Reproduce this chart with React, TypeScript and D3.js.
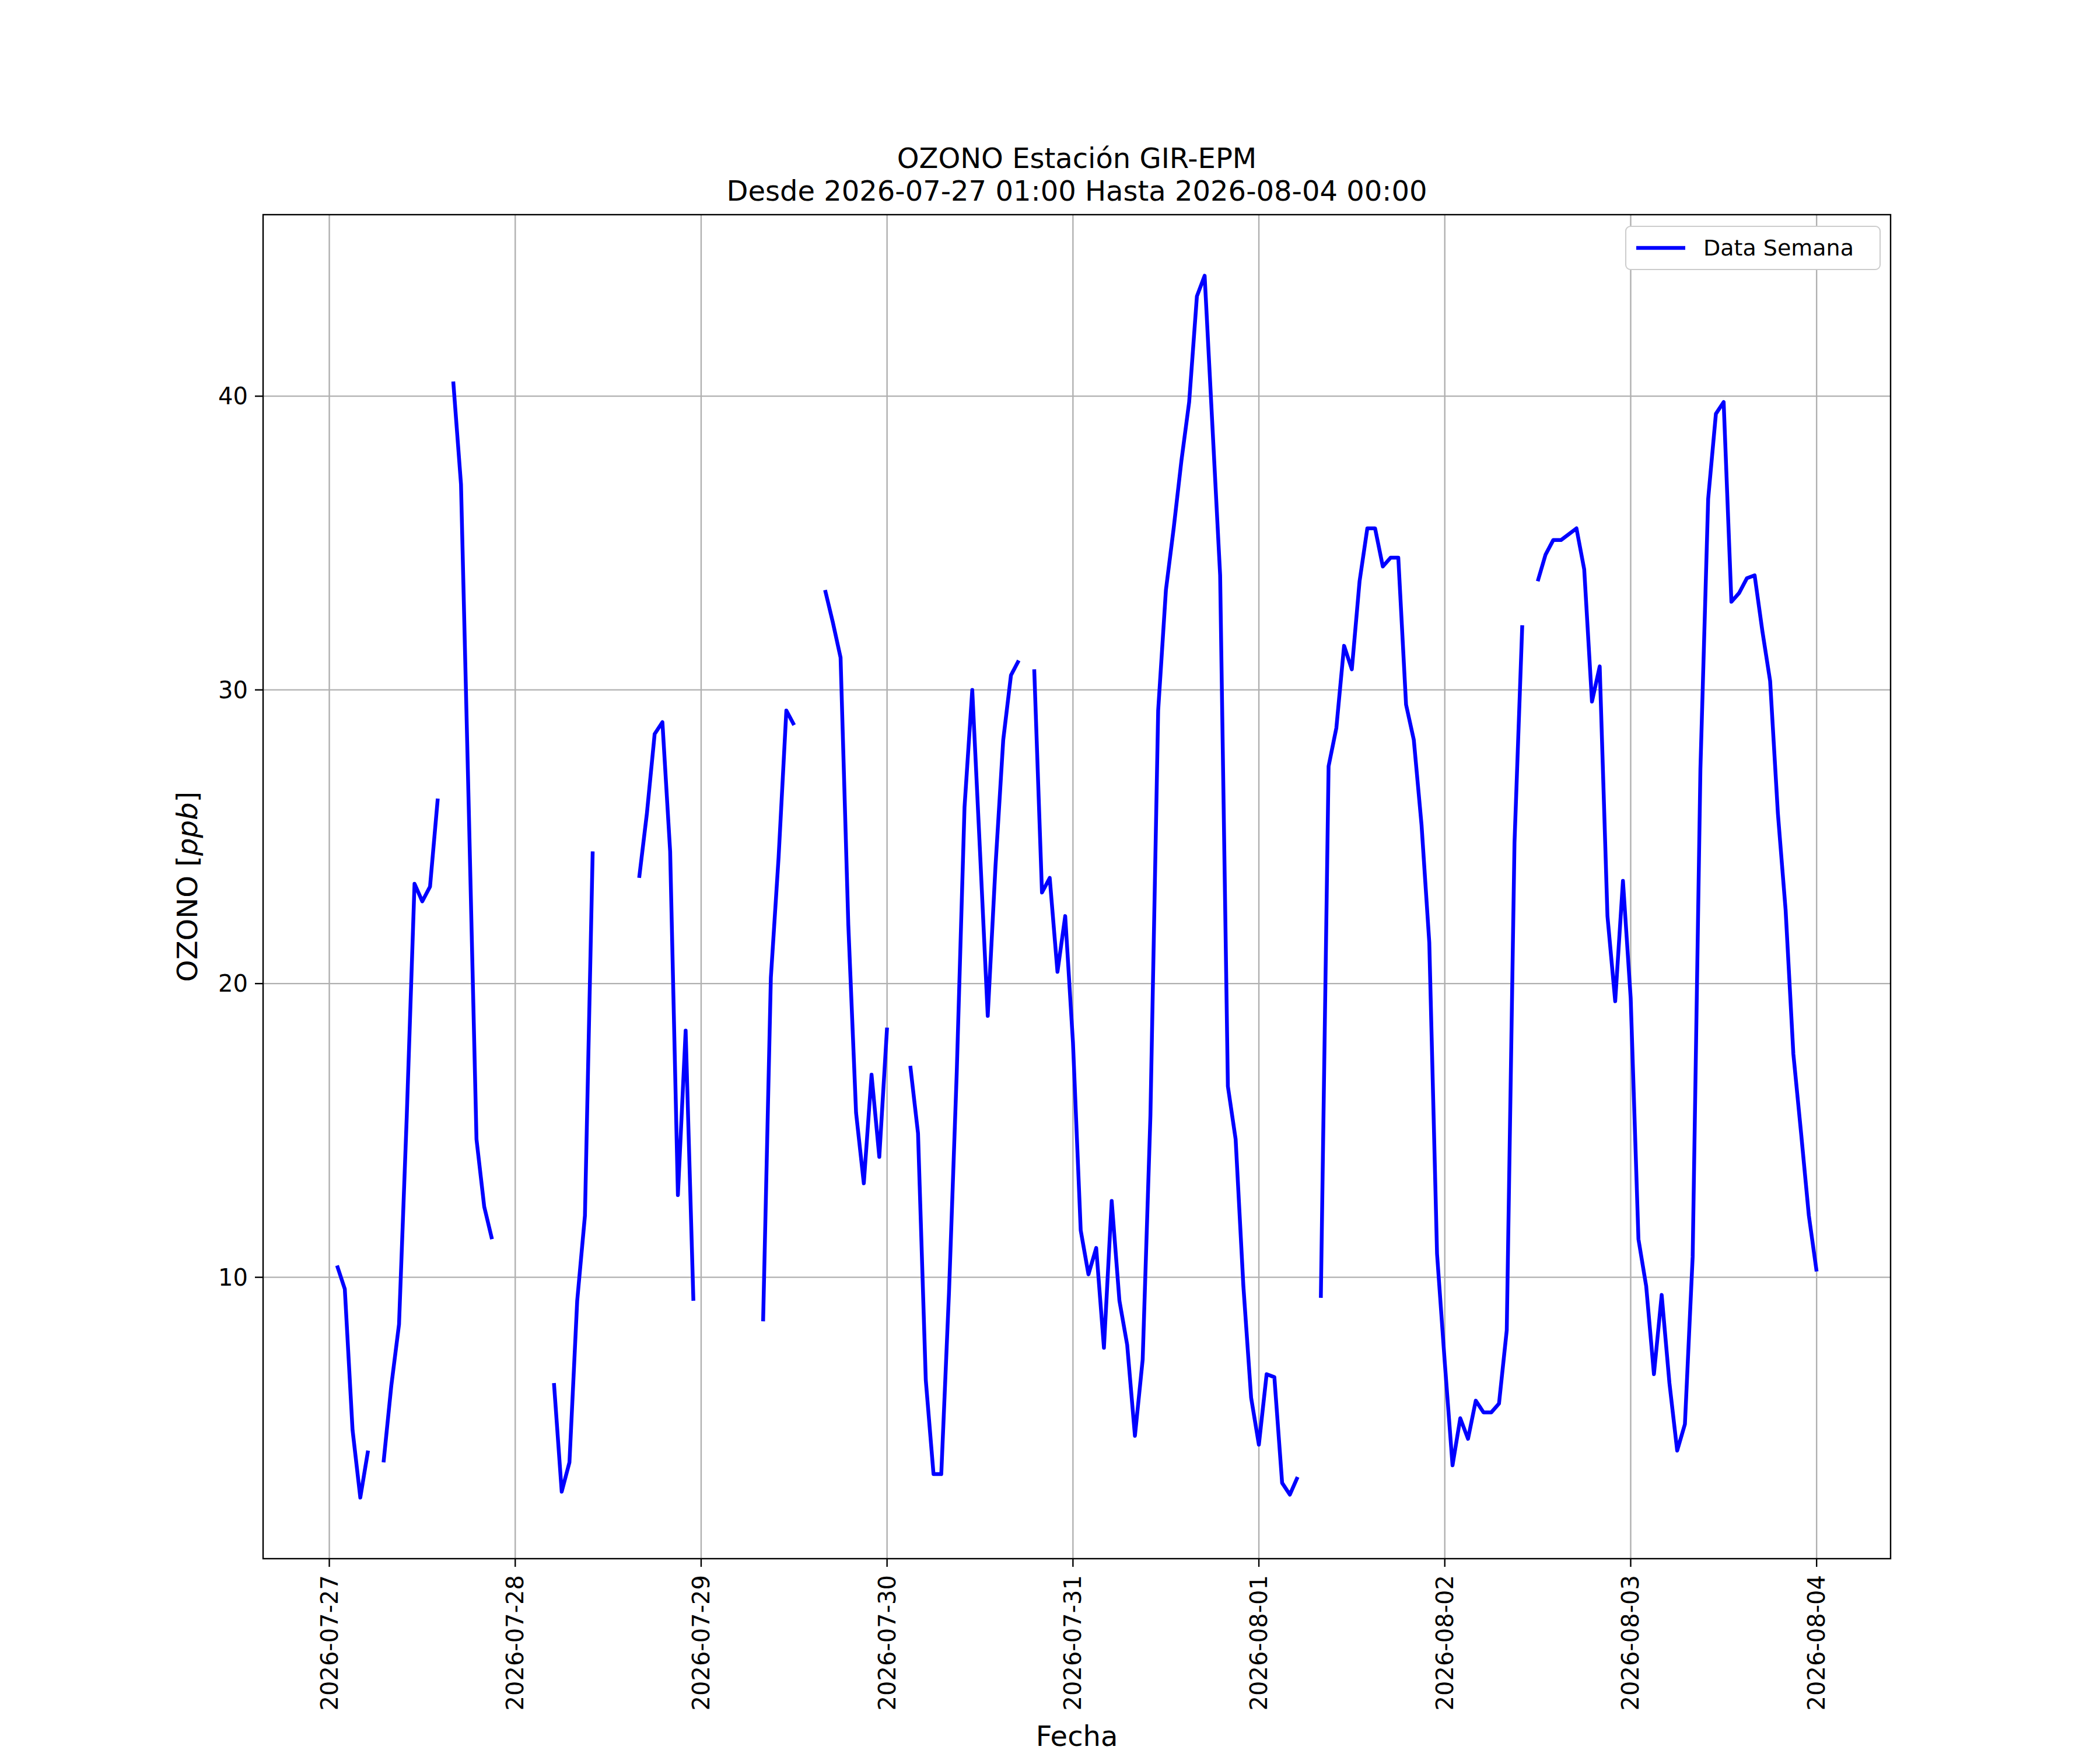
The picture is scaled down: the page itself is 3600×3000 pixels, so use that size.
import React from 'react';
import * as d3 from 'd3';

// hourly ozone (ppb), 2026-07-27 01:00 .. 2026-08-04 00:00, null = no data
const day0727 = [10.4, 9.6, 4.8, 2.5, 4.1, null, 3.7, 6.3, 8.4, 15.5, 23.4, 22.8, 23.3, 26.3, null, 40.5, 37.0, 26, 14.7, 12.4, 11.3, null, null];
const day0728 = [null, null, null, null, null, 6.4, 2.7, 3.7, 9.2, 12.1, 24.5, null, null, null, null, null, 23.6, 25.8, 28.5, 28.9, 24.5, 12.8, 18.4, 9.2];
const day0729 = [null, null, null, null, null, null, null, null, 8.5, 20.2, 24.3, 29.3, 28.8, null, null, null, 33.4, 32.3, 31.1, 22, 15.6, 13.2, 16.9, 14.1];
const day0730 = [18.5, null, null, 17.2, 14.9, 6.5, 3.3, 3.3, 9.5, 17, 26, 30, 24.5, 18.9, 24, 28.3, 30.5, 31.0, null, 30.7, 23.1, 23.6, 20.4, 22.3];
const day0731 = [18, 11.6, 10.1, 11.0, 7.6, 12.6, 9.2, 7.7, 4.6, 7.2, 15.5, 29.3, 33.4, 35.5, 37.8, 39.8, 43.4, 44.1, 39, 33.9, 16.5, 14.7, 9.7, 5.9];
const day0801 = [4.3, 6.7, 6.6, 3.0, 2.6, 3.2, null, null, 9.3, 27.4, 28.7, 31.5, 30.7, 33.7, 35.5, 35.5, 34.2, 34.5, 34.5, 29.5, 28.3, 25.4, 21.4, 10.8];
const day0802 = [7.1, 3.6, 5.2, 4.5, 5.8, 5.4, 5.4, 5.7, 8.2, 24.8, 32.2, null, 33.7, 34.6, 35.1, 35.1, 35.3, 35.5, 34.1, 29.6, 30.8, 22.3, 19.4, 23.5];
const day0803 = [19.5, 11.3, 9.7, 6.7, 9.4, 6.4, 4.1, 5.0, 10.7, 27.3, 36.5, 39.4, 39.8, 33.0, 33.3, 33.8, 33.9, 32.0, 30.3, 25.8, 22.5, 17.6, 14.9, 12.1];
const day0804 = [10.2];

const dayLabels = ['2026-07-27', '2026-07-28', '2026-07-29', '2026-07-30', '2026-07-31', '2026-08-01', '2026-08-02', '2026-08-03', '2026-08-04'];
const yTicks = [10, 20, 30, 40];

// hour offset from 2026-07-27 00:00
const values: (number | null)[] = [...day0727, ...day0728, ...day0729, ...day0730, ...day0731, ...day0801, ...day0802, ...day0803, ...day0804];
const points = values.map((v, i) => ({ h: i + 1, v }));

const W = 3600, H = 3000;
const L = 443, R = 3233, T = 360, B = 2664;
const font = 'DejaVu Sans';

const App: React.FC = () => {
  const span = 191 * 0.05;
  const x = d3.scaleLinear().domain([1 - span, 192 + span]).range([L, R]);
  const y = d3.scaleLinear().domain([0.42, 46.18]).range([B, T]);
  const line = d3.line<{ h: number; v: number | null }>()
    .defined((d) => d.v !== null)
    .x((d) => x(d.h))
    .y((d) => y(d.v as number));

  return (
    <svg width={W} height={H} style={{ display: 'block', background: '#fff' }} fontFamily={font}>
      {/* grid */}
      {dayLabels.map((_, i) => (
        <line key={'gx' + i} x1={x(i * 24)} x2={x(i * 24)} y1={T} y2={B} stroke="#b0b0b0" strokeWidth={2.4} />
      ))}
      {yTicks.map((t) => (
        <line key={'gy' + t} x1={L} x2={R} y1={y(t)} y2={y(t)} stroke="#b0b0b0" strokeWidth={2.4} />
      ))}
      <path d={line(points) || ''} fill="none" stroke="#0000ff" strokeWidth={6.5} strokeLinejoin="round" />
      <rect x={L} y={T} width={R - L} height={B - T} fill="none" stroke="#000" strokeWidth={2.4} />
      {/* x ticks */}
      {dayLabels.map((d, i) => (
        <g key={d} transform={`translate(${x(i * 24)},${B})`}>
          <line y2={14} stroke="#000" strokeWidth={2.4} />
          <text transform="translate(0,28) rotate(-90)" textAnchor="end" dy="0.35em" fontSize={40}>{d}</text>
        </g>
      ))}
      {yTicks.map((t) => (
        <g key={t} transform={`translate(${L},${y(t)})`}>
          <line x2={-14} stroke="#000" strokeWidth={2.4} />
          <text x={-26} textAnchor="end" dy="0.35em" fontSize={40}>{t}</text>
        </g>
      ))}
      <text x={(L + R) / 2} y={2985} textAnchor="middle" fontSize={48}>Fecha</text>
      <text transform={`translate(330,${(T + B) / 2}) rotate(-90)`} textAnchor="middle" fontSize={48}>
        OZONO [<tspan fontStyle="italic">ppb</tspan>]
      </text>
      <text x={(L + R) / 2} y={280} textAnchor="middle" fontSize={48}>OZONO Estación GIR-EPM</text>
      <text x={(L + R) / 2} y={336} textAnchor="middle" fontSize={48}>Desde 2026-07-27 01:00 Hasta 2026-08-04 00:00</text>
      {/* legend */}
      <g transform={`translate(${R - 454},${T + 20})`}>
        <rect width={436} height={74} rx={8} fill="#fff" stroke="#ccc" strokeWidth={2} />
        <line x1={18} x2={102} y1={37} y2={37} stroke="#0000ff" strokeWidth={6.5} />
        <text x={133} y={37} dy="0.35em" fontSize={38}>Data Semana</text>
      </g>
    </svg>
  );
};

export default App;
